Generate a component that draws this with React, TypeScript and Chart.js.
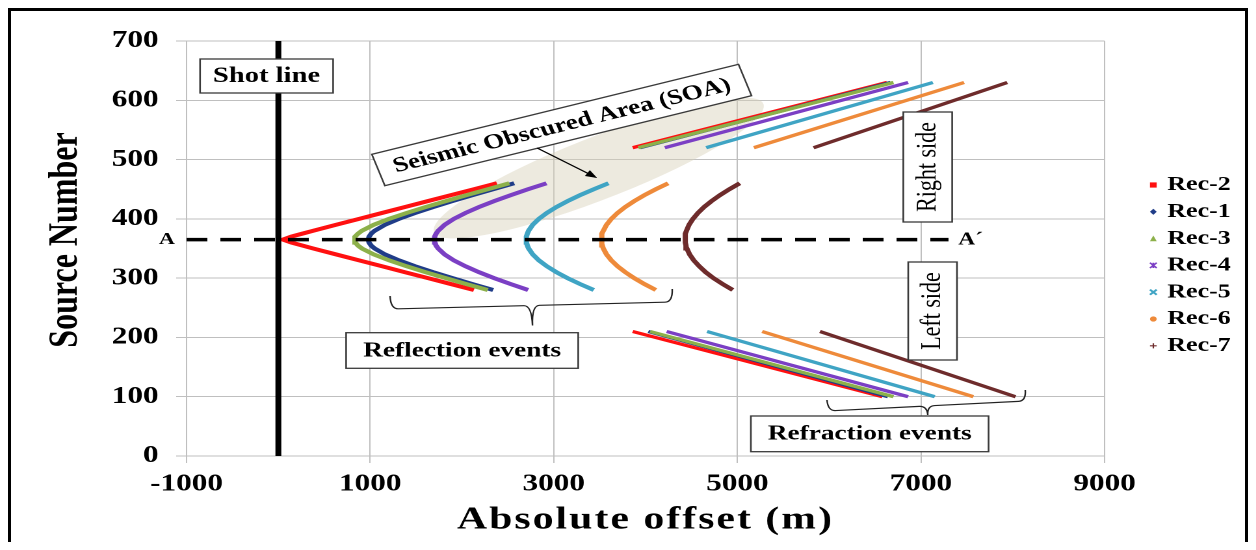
import React, { useEffect, useRef } from "react";
import { Chart, registerables } from "chart.js";

Chart.register(...registerables);

// ---------------- data ----------------
const seriesNames = ["Rec-2", "Rec-1", "Rec-3", "Rec-4", "Rec-5", "Rec-6", "Rec-7"];
const seriesColors = ["#FF1010", "#1F3C88", "#8CB04A", "#7B3FC4", "#3FA4C4", "#EE8A3A", "#6E2B2B"];
const seriesMarkers = ["rect", "rectRot", "triangle", "star", "crossRot", "circle", "cross"];

// reflection events (source number vs absolute offset)
const reflSources = [280, 290, 300, 310, 320, 330, 340, 350, 355, 360, 365, 370, 375, 380, 390, 400, 410, 420, 430, 440, 450, 460];
const rec2Refl = [2130, 1880, 1630, 1380, 1130, 880, 630, 380, 260, 140, 50, 140, 260, 380, 630, 880, 1130, 1380, 1630, 1880, 2130, 2380];
const rec1Refl = [2340, 2116, 1898, 1688, 1492, 1314, 1162, 1049, 1011, 988, 980, 988, 1011, 1049, 1162, 1314, 1492, 1688, 1898, 2116, 2340, 2569];
const rec3Refl = [2281, 2051, 1825, 1606, 1398, 1206, 1039, 911, 867, 839, 830, 839, 867, 911, 1039, 1206, 1398, 1606, 1825, 2051, 2281, 2516];
const rec4Refl = [2721, 2531, 2352, 2186, 2039, 1912, 1811, 1741, 1718, 1705, 1700, 1705, 1718, 1741, 1811, 1912, 2039, 2186, 2352, 2531, 2721, 2921];
const rec5Refl = [3436, 3287, 3151, 3030, 2925, 2838, 2771, 2726, 2712, 2703, 2700, 2703, 2712, 2726, 2771, 2838, 2925, 3030, 3151, 3287, 3436, 3596];
const rec6Refl = [4112, 3988, 3877, 3779, 3695, 3627, 3575, 3540, 3529, 3522, 3520, 3522, 3529, 3540, 3575, 3627, 3695, 3779, 3877, 3988, 4112, 4246];
const rec7Refl = [4950, 4840, 4740, 4655, 4585, 4525, 4480, 4450, 4440, 4433, 4430, 4432, 4437, 4446, 4474, 4516, 4571, 4638, 4719, 4810, 4913, 5026];

// refraction events, right side
const rightSources = [520, 630];
const rec2Right = [3860, 6630];
const rec1Right = [3940, 6670];
const rec3Right = [3920, 6700];
const rec4Right = [4210, 6860];
const rec5Right = [4660, 7130];
const rec6Right = [5180, 7470];
const rec7Right = [5830, 7940];

// refraction events, left side
const leftSources = [210, 100];
const rec2Left = [3860, 6580];
const rec1Left = [4030, 6640];
const rec3Left = [4050, 6700];
const rec4Left = [4230, 6860];
const rec5Left = [4670, 7150];
const rec6Left = [5270, 7570];
const rec7Left = [5900, 8030];

// shot line and A-A' profile
const shotLineOffsets = [0, 0];
const shotLineSources = [0, 700];
const profileOffsets = [-1000, 7300];
const profileSource = 365;

// axes
const xTickValues = [-1000, 1000, 3000, 5000, 7000, 9000];
const yMin = 0;
const yMax = 700;
const yStep = 100;

// ---------------- layout ----------------
const FONT = "'Liberation Serif', 'Times New Roman', serif";
const INNER_W = 949;
const INNER_H = 531;
const STRETCH = 1234 / INNER_W;

const reflSets = [rec2Refl, rec1Refl, rec3Refl, rec4Refl, rec5Refl, rec6Refl, rec7Refl];
const rightSets = [rec2Right, rec1Right, rec3Right, rec4Right, rec5Right, rec6Right, rec7Right];
const leftSets = [rec2Left, rec1Left, rec3Left, rec4Left, rec5Left, rec6Left, rec7Left];
const reflCount = reflSources.length;

function buildSeries(i: number) {
  const pts: any[] = [];
  reflSets[i].forEach((x, k) => pts.push({ x, y: reflSources[k] }));
  pts.push({ x: null, y: null });
  rightSets[i].forEach((x, k) => pts.push({ x, y: rightSources[k] }));
  pts.push({ x: null, y: null });
  leftSets[i].forEach((x, k) => pts.push({ x, y: leftSources[k] }));
  return pts;
}

function drawBox(ctx: CanvasRenderingContext2D, x1: number, y1: number, x2: number, y2: number) {
  ctx.save();
  ctx.fillStyle = "#ffffff";
  ctx.fillRect(x1, y1, x2 - x1, y2 - y1);
  ctx.strokeStyle = "#3a3a3a";
  ctx.lineWidth = 1.3;
  ctx.strokeRect(x1, y1, x2 - x1, y2 - y1);
  ctx.restore();
}

function drawText(ctx: CanvasRenderingContext2D, t: string, x: number, y: number, font: string, align: CanvasTextAlign = "center", rot = 0) {
  ctx.save();
  ctx.translate(x, y);
  if (rot) ctx.rotate(rot);
  ctx.font = font;
  ctx.fillStyle = "#000";
  ctx.textAlign = align;
  ctx.textBaseline = "middle";
  ctx.fillText(t, 0, 0);
  ctx.restore();
}

function drawBrace(ctx: CanvasRenderingContext2D, x1: number, y1: number, x2: number, y2: number, depth: number, tip: number) {
  const ang = Math.atan2(y2 - y1, x2 - x1);
  const L = Math.hypot(x2 - x1, y2 - y1);
  const r = 6;
  const m = L / 2;
  ctx.save();
  ctx.translate(x1, y1);
  ctx.rotate(ang);
  ctx.strokeStyle = "#222";
  ctx.lineWidth = 1.2;
  ctx.beginPath();
  ctx.moveTo(0, 0);
  ctx.quadraticCurveTo(0, depth, r, depth);
  ctx.lineTo(m - r, depth);
  ctx.quadraticCurveTo(m, depth, m, tip);
  ctx.quadraticCurveTo(m, depth, m + r, depth);
  ctx.lineTo(L - r, depth);
  ctx.quadraticCurveTo(L, depth, L, 0);
  ctx.stroke();
  ctx.restore();
}

function drawMarker(ctx: CanvasRenderingContext2D, style: string, x: number, y: number, color: string) {
  const s = 2.6;
  ctx.save();
  ctx.fillStyle = color;
  ctx.strokeStyle = color;
  ctx.lineWidth = 1.4;
  ctx.beginPath();
  switch (style) {
    case "rect":
      ctx.fillRect(x - s, y - s, 2 * s, 2 * s);
      break;
    case "rectRot":
      ctx.moveTo(x, y - s - 0.5); ctx.lineTo(x + s, y); ctx.lineTo(x, y + s + 0.5); ctx.lineTo(x - s, y); ctx.closePath(); ctx.fill();
      break;
    case "triangle":
      ctx.moveTo(x, y - s - 0.5); ctx.lineTo(x + s, y + s); ctx.lineTo(x - s, y + s); ctx.closePath(); ctx.fill();
      break;
    case "star":
      ctx.moveTo(x - s, y - s); ctx.lineTo(x + s, y + s); ctx.moveTo(x + s, y - s); ctx.lineTo(x - s, y + s);
      ctx.moveTo(x, y - s); ctx.lineTo(x, y + s); ctx.stroke();
      break;
    case "crossRot":
      ctx.lineWidth = 1.8;
      ctx.moveTo(x - s, y - s); ctx.lineTo(x + s, y + s); ctx.moveTo(x + s, y - s); ctx.lineTo(x - s, y + s); ctx.stroke();
      break;
    case "circle":
      ctx.arc(x, y, s, 0, Math.PI * 2); ctx.fill();
      break;
    default:
      ctx.lineWidth = 1.1;
      ctx.moveTo(x - s, y); ctx.lineTo(x + s, y); ctx.moveTo(x, y - s); ctx.lineTo(x, y + s); ctx.stroke();
  }
  ctx.restore();
}

const annotationPlugin = {
  id: "annotationPlugin",
  beforeDatasetsDraw(chart: any) {
    const ctx: CanvasRenderingContext2D = chart.ctx;
    // Seismic obscured area ellipse
    ctx.save();
    ctx.translate(452, 157);
    ctx.rotate((-27.3 * Math.PI) / 180);
    ctx.beginPath();
    ctx.ellipse(0, 0, 142, 30, 0, 0, Math.PI * 2);
    ctx.fillStyle = "rgba(214, 208, 184, 0.45)";
    ctx.fill();
    ctx.restore();
  },
  afterDraw(chart: any) {
    const ctx: CanvasRenderingContext2D = chart.ctx;
    const area = chart.chartArea;
    const yScale = chart.scales.y;
    const yA = yScale.getPixelForValue(profileSource);

    // axis titles
    ctx.save();
    (ctx as any).letterSpacing = "1.6px";
    drawText(ctx, "Absolute offset (m)", (area.left + area.right) / 2, 509, "bold 32px " + FONT);
    ctx.restore();
    drawText(ctx, "Source Number", 42.3, 229, "bold 32px " + FONT, "center", -Math.PI / 2);

    // A - A' labels
    drawText(ctx, "A", 126, yA, "bold 17px " + FONT, "right");
    drawText(ctx, "A\u00B4", 728.5, yA, "bold 18px " + FONT, "left");

    // Shot line label
    drawBox(ctx, 145.4, 48, 247.7, 82);
    drawText(ctx, "Shot line", 196.5, 65.5, "bold 22px " + FONT);

    // SOA label box
    ctx.save();
    ctx.translate(423.5, 114);
    ctx.rotate((-17.7 * Math.PI) / 180);
    drawBox(ctx, -148, -16.5, 148, 16.5);
    drawText(ctx, "Seismic Obscured Area (SOA)", 0, 1, "bold 21px " + FONT);
    ctx.restore();

    // arrow
    const ax1 = 404.6, ay1 = 137, ax2 = 450.8, ay2 = 167;
    const aang = Math.atan2(ay2 - ay1, ax2 - ax1);
    ctx.save();
    ctx.strokeStyle = "#000";
    ctx.fillStyle = "#000";
    ctx.lineWidth = 1.1;
    ctx.beginPath();
    ctx.moveTo(ax1, ay1);
    ctx.lineTo(ax2 - 6 * Math.cos(aang), ay2 - 6 * Math.sin(aang));
    ctx.stroke();
    ctx.beginPath();
    ctx.moveTo(ax2, ay2);
    ctx.lineTo(ax2 - 9 * Math.cos(aang) + 3.5 * Math.sin(aang), ay2 - 9 * Math.sin(aang) - 3.5 * Math.cos(aang));
    ctx.lineTo(ax2 - 9 * Math.cos(aang) - 3.5 * Math.sin(aang), ay2 - 9 * Math.sin(aang) + 3.5 * Math.cos(aang));
    ctx.closePath();
    ctx.fill();
    ctx.restore();

    // Right side / Left side boxes
    drawBox(ctx, 686.2, 101, 723.8, 211);
    drawText(ctx, "Right side", (686.2 + 723.8) / 2, 156, "22px " + FONT, "center", -Math.PI / 2);
    drawBox(ctx, 690, 251, 727.5, 349);
    drawText(ctx, "Left side", (690 + 727.5) / 2, 300, "22px " + FONT, "center", -Math.PI / 2);

    // Reflection events
    drawBrace(ctx, 291.5, 285, 508.5, 278, 13, 33);
    drawBox(ctx, 257.7, 321.7, 436.2, 357.3);
    drawText(ctx, "Reflection events", (257.7 + 436.2) / 2, 340, "bold 21px " + FONT);

    // Refraction events
    drawBrace(ctx, 627.5, 389, 780, 379, 11, 20);
    drawBox(ctx, 569, 405, 751.8, 440.7);
    drawText(ctx, "Refraction events", (569 + 751.8) / 2, 423.3, "bold 21px " + FONT);

    // legend
    seriesNames.forEach((name, i) => {
      const y = 174 + i * 26.8;
      drawMarker(ctx, seriesMarkers[i], 878.5, y, seriesColors[i]);
      drawText(ctx, name, 889.2, y, "bold 20px " + FONT, "left");
    });
  },
};

export default function App() {
  const canvasRef = useRef<HTMLCanvasElement>(null);

  useEffect(() => {
    const recDatasets = seriesNames.map((name, i) => ({
      label: name,
      data: buildSeries(i),
      borderColor: seriesColors[i],
      backgroundColor: seriesColors[i],
      borderWidth: 4,
      pointRadius: 0,
      tension: 0,
      spanGaps: false,
      order: 10 - i,
      segment: {
        borderWidth: (c: any) => (c.p0DataIndex >= reflCount ? 3.3 : 4),
      },
    }));
    const shotLine = {
      label: "Shot line",
      data: shotLineOffsets.map((x, k) => ({ x, y: shotLineSources[k] })),
      borderColor: "#000",
      borderWidth: 4.5,
      pointRadius: 0,
      order: 0,
    };
    const profile = {
      label: "A-A'",
      data: profileOffsets.map((x) => ({ x, y: profileSource })),
      borderColor: "#000",
      borderWidth: 3.5,
      borderDash: [16, 10],
      pointRadius: 0,
      order: 0,
    };

    const chart = new Chart(canvasRef.current as HTMLCanvasElement, {
      type: "line",
      data: { datasets: [...recDatasets, shotLine, profile] as any },
      options: {
        animation: false,
        responsive: true,
        maintainAspectRatio: false,
        devicePixelRatio: 2,
        layout: { padding: { left: 0, right: INNER_W - 841, top: 30, bottom: 0 } },
        plugins: { legend: { display: false }, tooltip: { enabled: false } },
        scales: {
          x: {
            type: "linear",
            min: xTickValues[0],
            max: xTickValues[xTickValues.length - 1],
            afterBuildTicks: (scale: any) => {
              scale.ticks = xTickValues.map((v) => ({ value: v }));
            },
            afterFit: (scale: any) => {
              scale.height = INNER_H - 445;
            },
            grid: { color: "#bfbfbf", lineWidth: 1, tickLength: 7, tickColor: "#bfbfbf" },
            border: { color: "#bfbfbf", width: 1 },
            ticks: {
              autoSkip: false,
              maxRotation: 0,
              padding: 7,
              color: "#000",
              font: { family: FONT, size: 24, weight: "bold" },
              callback: (v: any) => String(v),
            },
            title: { display: false },
          },
          y: {
            type: "linear",
            min: yMin,
            max: yMax,
            afterFit: (scale: any) => {
              scale.width = 135;
            },
            grid: { color: "#bfbfbf", lineWidth: 1, tickLength: 8, tickColor: "#bfbfbf" },
            border: { color: "#bfbfbf", width: 1 },
            ticks: {
              stepSize: yStep,
              padding: 13.5,
              color: "#000",
              font: { family: FONT, size: 24, weight: "bold" },
              callback: (v: any) => String(v),
            },
            title: { display: false },
          },
        },
      } as any,
      plugins: [annotationPlugin],
    });
    return () => chart.destroy();
  }, []);

  return (
    <div
      style={{
        width: 1240,
        height: 534,
        borderTop: "3px solid #000",
        borderLeft: "3px solid #000",
        borderRight: "3px solid #000",
        boxSizing: "border-box",
        overflow: "hidden",
        background: "#fff",
      }}
    >
      <div
        style={{
          width: INNER_W,
          height: INNER_H,
          transform: `scaleX(${STRETCH})`,
          transformOrigin: "0 0",
        }}
      >
        <canvas ref={canvasRef} />
      </div>
    </div>
  );
}
